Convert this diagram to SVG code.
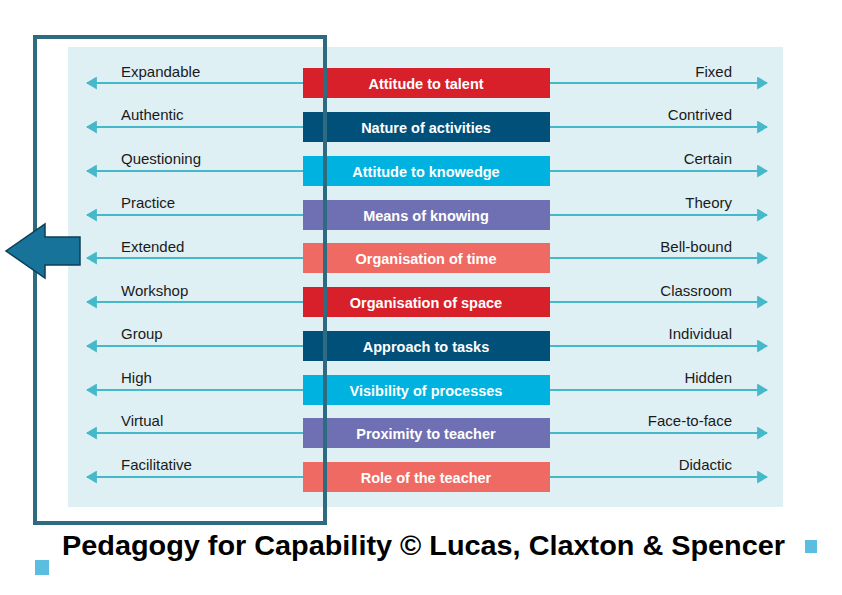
<svg xmlns="http://www.w3.org/2000/svg" width="842" height="595" viewBox="0 0 842 595">
<defs>
<style>
.lbl{font-family:"Liberation Sans",Arial,sans-serif;font-size:15px;fill:#1a1a1a}
.bt{font-family:"Liberation Sans",Arial,sans-serif;font-size:14.5px;font-weight:bold;fill:#fff;text-anchor:middle}
.ln{stroke:#45b8c9;stroke-width:2;fill:none}
</style>
<marker id="ah" viewBox="0 0 10 10" refX="9" refY="5" markerWidth="11" markerHeight="13" orient="auto" markerUnits="userSpaceOnUse" preserveAspectRatio="none"><path d="M0,0 L10,5 L0,10 Z" fill="#45b8c9"/></marker>
</defs>
<rect width="842" height="595" fill="#fff"/>
<rect x="68" y="47" width="715" height="460" fill="#dff0f5"/>
<g id="connectors" class="ln" marker-end="url(#ah)">
<path class="ln" d="M303,83H87" marker-end="url(#ah)"/><path class="ln" d="M550,83H767" marker-end="url(#ah)"/>
<path class="ln" d="M303,127H87" marker-end="url(#ah)"/><path class="ln" d="M550,127H767" marker-end="url(#ah)"/>
<path class="ln" d="M303,171H87" marker-end="url(#ah)"/><path class="ln" d="M550,171H767" marker-end="url(#ah)"/>
<path class="ln" d="M303,215H87" marker-end="url(#ah)"/><path class="ln" d="M550,215H767" marker-end="url(#ah)"/>
<path class="ln" d="M303,258H87" marker-end="url(#ah)"/><path class="ln" d="M550,258H767" marker-end="url(#ah)"/>
<path class="ln" d="M303,302H87" marker-end="url(#ah)"/><path class="ln" d="M550,302H767" marker-end="url(#ah)"/>
<path class="ln" d="M303,346H87" marker-end="url(#ah)"/><path class="ln" d="M550,346H767" marker-end="url(#ah)"/>
<path class="ln" d="M303,390H87" marker-end="url(#ah)"/><path class="ln" d="M550,390H767" marker-end="url(#ah)"/>
<path class="ln" d="M303,433H87" marker-end="url(#ah)"/><path class="ln" d="M550,433H767" marker-end="url(#ah)"/>
<path class="ln" d="M303,477H87" marker-end="url(#ah)"/><path class="ln" d="M550,477H767" marker-end="url(#ah)"/>
</g>
<g id="n1"><rect x="303" y="68" width="247" height="30" fill="#d8202a"/><text class="bt" x="426" y="89">Attitude to talent</text><text class="lbl" x="121" y="77">Expandable</text><text class="lbl" x="732" y="77" text-anchor="end">Fixed</text></g>
<g id="n2"><rect x="303" y="112" width="247" height="30" fill="#00507a"/><text class="bt" x="426" y="133">Nature of activities</text><text class="lbl" x="121" y="120">Authentic</text><text class="lbl" x="732" y="120" text-anchor="end">Contrived</text></g>
<g id="n3"><rect x="303" y="156" width="247" height="30" fill="#00b2e0"/><text class="bt" x="426" y="177">Attitude to knowedge</text><text class="lbl" x="121" y="164">Questioning</text><text class="lbl" x="732" y="164" text-anchor="end">Certain</text></g>
<g id="n4"><rect x="303" y="200" width="247" height="30" fill="#6f6fb3"/><text class="bt" x="426" y="221">Means of knowing</text><text class="lbl" x="121" y="208">Practice</text><text class="lbl" x="732" y="208" text-anchor="end">Theory</text></g>
<g id="n5"><rect x="303" y="243" width="247" height="30" fill="#ef6a62"/><text class="bt" x="426" y="264">Organisation of time</text><text class="lbl" x="121" y="252">Extended</text><text class="lbl" x="732" y="252" text-anchor="end">Bell-bound</text></g>
<g id="n6"><rect x="303" y="287" width="247" height="30" fill="#d8202a"/><text class="bt" x="426" y="308">Organisation of space</text><text class="lbl" x="121" y="296">Workshop</text><text class="lbl" x="732" y="296" text-anchor="end">Classroom</text></g>
<g id="n7"><rect x="303" y="331" width="247" height="30" fill="#00507a"/><text class="bt" x="426" y="352">Approach to tasks</text><text class="lbl" x="121" y="339">Group</text><text class="lbl" x="732" y="339" text-anchor="end">Individual</text></g>
<g id="n8"><rect x="303" y="375" width="247" height="30" fill="#00b2e0"/><text class="bt" x="426" y="396">Visibility of processes</text><text class="lbl" x="121" y="383">High</text><text class="lbl" x="732" y="383" text-anchor="end">Hidden</text></g>
<g id="n9"><rect x="303" y="418" width="247" height="30" fill="#6f6fb3"/><text class="bt" x="426" y="439">Proximity to teacher</text><text class="lbl" x="121" y="426">Virtual</text><text class="lbl" x="732" y="426" text-anchor="end">Face-to-face</text></g>
<g id="n10"><rect x="303" y="462" width="247" height="30" fill="#ef6a62"/><text class="bt" x="426" y="483">Role of the teacher</text><text class="lbl" x="121" y="470">Facilitative</text><text class="lbl" x="732" y="470" text-anchor="end">Didactic</text></g>
<g id="frame"><rect x="35" y="37" width="290" height="486" fill="none" stroke="#2f6b80" stroke-width="4"/></g>
<g id="bigarrow"><path d="M80,237 H45 V224 L6,251 L45,278 V265 H80 Z" fill="#17739a" stroke="#0d3f55" stroke-width="1.5"/></g>
<g id="title"><text x="62" y="555" font-family="'Liberation Sans Narrow','Liberation Sans',Arial,sans-serif" font-size="27" font-weight="bold" fill="#000" textLength="723" lengthAdjust="spacingAndGlyphs">Pedagogy for Capability  © Lucas, Claxton &amp; Spencer</text>
<rect x="35" y="560" width="14" height="15" fill="#5bbde0"/><rect x="805" y="540" width="12" height="13" fill="#5bbde0"/></g>
</svg>
